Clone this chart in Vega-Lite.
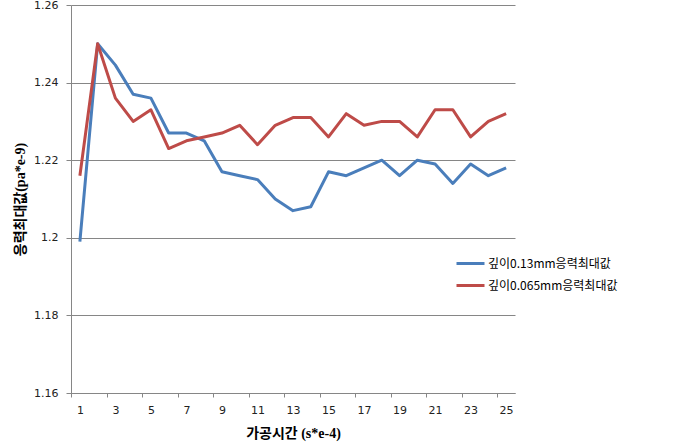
{
  "$schema": "https://vega.github.io/schema/vega-lite/v6.json",
  "autosize": {"type": "none"},
  "width": 444,
  "height": 388,
  "padding": {"left": 71, "top": 5, "right": 175, "bottom": 55},
  "background": "white",
  "config": {"view": {"stroke": null}},
  "data": {"values": [
    {"t": 1, "s": "깊이0.13mm응력최대값", "v": 1.199},
    {"t": 2, "s": "깊이0.13mm응력최대값", "v": 1.250},
    {"t": 3, "s": "깊이0.13mm응력최대값", "v": 1.2445},
    {"t": 4, "s": "깊이0.13mm응력최대값", "v": 1.237},
    {"t": 5, "s": "깊이0.13mm응력최대값", "v": 1.236},
    {"t": 6, "s": "깊이0.13mm응력최대값", "v": 1.227},
    {"t": 7, "s": "깊이0.13mm응력최대값", "v": 1.227},
    {"t": 8, "s": "깊이0.13mm응력최대값", "v": 1.225},
    {"t": 9, "s": "깊이0.13mm응력최대값", "v": 1.217},
    {"t": 10, "s": "깊이0.13mm응력최대값", "v": 1.216},
    {"t": 11, "s": "깊이0.13mm응력최대값", "v": 1.215},
    {"t": 12, "s": "깊이0.13mm응력최대값", "v": 1.210},
    {"t": 13, "s": "깊이0.13mm응력최대값", "v": 1.207},
    {"t": 14, "s": "깊이0.13mm응력최대값", "v": 1.208},
    {"t": 15, "s": "깊이0.13mm응력최대값", "v": 1.217},
    {"t": 16, "s": "깊이0.13mm응력최대값", "v": 1.216},
    {"t": 17, "s": "깊이0.13mm응력최대값", "v": 1.218},
    {"t": 18, "s": "깊이0.13mm응력최대값", "v": 1.220},
    {"t": 19, "s": "깊이0.13mm응력최대값", "v": 1.216},
    {"t": 20, "s": "깊이0.13mm응력최대값", "v": 1.220},
    {"t": 21, "s": "깊이0.13mm응력최대값", "v": 1.219},
    {"t": 22, "s": "깊이0.13mm응력최대값", "v": 1.214},
    {"t": 23, "s": "깊이0.13mm응력최대값", "v": 1.219},
    {"t": 24, "s": "깊이0.13mm응력최대값", "v": 1.216},
    {"t": 25, "s": "깊이0.13mm응력최대값", "v": 1.218},
    {"t": 1, "s": "깊이0.065mm응력최대값", "v": 1.216},
    {"t": 2, "s": "깊이0.065mm응력최대값", "v": 1.250},
    {"t": 3, "s": "깊이0.065mm응력최대값", "v": 1.236},
    {"t": 4, "s": "깊이0.065mm응력최대값", "v": 1.230},
    {"t": 5, "s": "깊이0.065mm응력최대값", "v": 1.233},
    {"t": 6, "s": "깊이0.065mm응력최대값", "v": 1.223},
    {"t": 7, "s": "깊이0.065mm응력최대값", "v": 1.225},
    {"t": 8, "s": "깊이0.065mm응력최대값", "v": 1.226},
    {"t": 9, "s": "깊이0.065mm응력최대값", "v": 1.227},
    {"t": 10, "s": "깊이0.065mm응력최대값", "v": 1.229},
    {"t": 11, "s": "깊이0.065mm응력최대값", "v": 1.224},
    {"t": 12, "s": "깊이0.065mm응력최대값", "v": 1.229},
    {"t": 13, "s": "깊이0.065mm응력최대값", "v": 1.231},
    {"t": 14, "s": "깊이0.065mm응력최대값", "v": 1.231},
    {"t": 15, "s": "깊이0.065mm응력최대값", "v": 1.226},
    {"t": 16, "s": "깊이0.065mm응력최대값", "v": 1.232},
    {"t": 17, "s": "깊이0.065mm응력최대값", "v": 1.229},
    {"t": 18, "s": "깊이0.065mm응력최대값", "v": 1.230},
    {"t": 19, "s": "깊이0.065mm응력최대값", "v": 1.230},
    {"t": 20, "s": "깊이0.065mm응력최대값", "v": 1.226},
    {"t": 21, "s": "깊이0.065mm응력최대값", "v": 1.233},
    {"t": 22, "s": "깊이0.065mm응력최대값", "v": 1.233},
    {"t": 23, "s": "깊이0.065mm응력최대값", "v": 1.226},
    {"t": 24, "s": "깊이0.065mm응력최대값", "v": 1.230},
    {"t": 25, "s": "깊이0.065mm응력최대값", "v": 1.232}
  ]},
  "mark": {"type": "line", "strokeWidth": 3, "strokeJoin": "round"},
  "encoding": {
    "x": {
      "field": "t", "type": "quantitative",
      "scale": {"domain": [0.5, 25.5], "nice": false, "zero": false},
      "axis": {
        "title": "가공시간 (s*e-4)",
        "titleFont": "Liberation Serif, Noto Sans CJK KR", "titleFontSize": 14, "titleFontWeight": "bold", "titleColor": "#000",
        "titlePadding": 11,
        "values": [0.5,1,2.5,3,4.5,5,6.5,7,8.5,9,10.5,11,12.5,13,14.5,15,16.5,17,18.5,19,20.5,21,22.5,23,24.5,25],
        "labelExpr": "datum.value % 1 === 0 ? format(datum.value, 'd') : ''",
        "labelFont": "DejaVu Sans", "labelFontSize": 11, "labelColor": "#222",
        "labelPadding": 7,
        "tickOpacity": {"condition": {"test": "datum.value % 1 === 0", "value": 0}, "value": 1},
        "tickColor": "#868686", "tickSize": 4,
        "domainColor": "#868686", "grid": false
      }
    },
    "y": {
      "field": "v", "type": "quantitative",
      "scale": {"domain": [1.16, 1.26], "nice": false, "zero": false},
      "axis": {
        "title": "응력최대값(pa*e-9)",
        "titleFont": "Liberation Serif, Noto Sans CJK KR", "titleFontSize": 14, "titleFontWeight": "bold", "titleColor": "#000",
        "titlePadding": 6,
        "values": [1.16, 1.18, 1.2, 1.22, 1.24, 1.26],
        "format": ".2~f",
        "labelFont": "DejaVu Sans", "labelFontSize": 11, "labelColor": "#222",
        "labelPadding": 8,
        "tickColor": "#868686", "tickSize": 5,
        "domainColor": "#868686",
        "grid": true, "gridColor": "#868686", "gridWidth": 1
      }
    },
    "color": {
      "field": "s", "type": "nominal",
      "scale": {"domain": ["깊이0.13mm응력최대값", "깊이0.065mm응력최대값"], "range": ["#4A7EBB", "#BE4B48"]},
      "legend": {
        "title": null, "orient": "none", "legendX": 384, "legendY": 243,
        "symbolType": "stroke", "symbolSize": 784, "symbolStrokeWidth": 3,
        "labelFont": "Noto Sans CJK KR", "labelFontSize": 12, "labelColor": "#000",
        "labelOffset": 2, "rowPadding": -3, "labelLimit": 300
      }
    }
  }
}
